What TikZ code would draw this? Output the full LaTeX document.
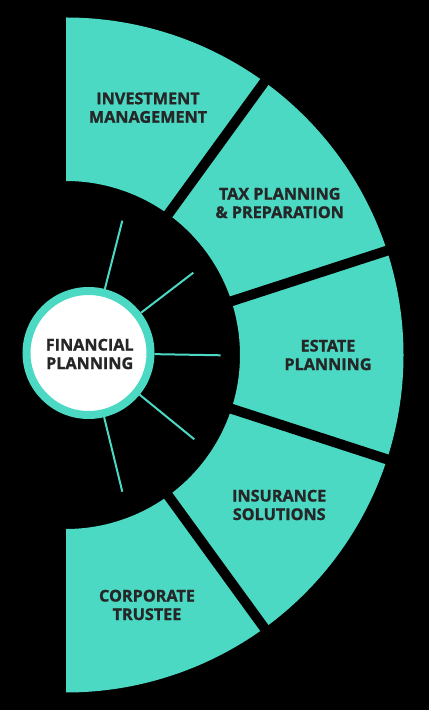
\documentclass[tikz,border=0pt]{standalone}
\usepackage{fontspec}
\setmainfont{Open Sans}[BoldFeatures={FakeBold=1.2}]
\definecolor{teal1}{HTML}{4BD9C4}
\definecolor{ink}{HTML}{262626}
\begin{document}
\begin{tikzpicture}[x=1pt,y=1pt,
  lbl/.style={font=\fontsize{16.2}{18.5}\selectfont\bfseries, text=ink, align=center, inner sep=0pt},
  segfill/.style={fill=teal1},
  gapline/.style={draw=black, line width=10pt},
  spoke/.style={draw=teal1, line width=2pt},
  hubstyle/.style={circle, fill=white, draw=teal1, line width=8pt, minimum size=124pt, inner sep=0pt}]
\fill[black] (0,0) rectangle (429,710);
\useasboundingbox (0,0) rectangle (429,710);
\coordinate (C) at (66,355);
% annulus segments
\foreach \a/\b in {90/54,54/18,18/-18,-18/-54,-54/-90}
  \fill[segfill, shift={(66,355)}] (\a:174) arc[start angle=\a, end angle=\b, radius=174]
     -- (\b:337.5) arc[start angle=\b, end angle=\a, radius=337.5] -- cycle;
% gaps
\foreach \a in {54,18,-18,-54}
  \draw[gapline, shift={(66,355)}] (\a:160) -- (\a:350);
% labels
\node[lbl] (inv) at (148,602.3) {INVESTMENT\\MANAGEMENT};
\node[lbl] (tax) at (279.7,507) {TAX PLANNING\\\& PREPARATION};
\node[lbl] (est) at (328,355) {ESTATE\\PLANNING};
\node[lbl] (ins) at (279.2,205) {INSURANCE\\SOLUTIONS};
\node[lbl] (cor) at (147,105) {CORPORATE\\TRUSTEE};
% hub
\node[hubstyle] (hub) at (88.5,357) {};
\node[lbl] (fin) at (89.7,356) {FINANCIAL\\PLANNING};
% spokes
\coordinate (s1) at (122.3,489.3);
\coordinate (s2) at (193.3,437.3);
\coordinate (s3) at (220.7,354.7);
\coordinate (s4) at (194.3,270.7);
\coordinate (s5) at (122.3,218.3);
\foreach \s in {s1,s2,s3,s4,s5}
  \draw[spoke] (hub) -- (\s);
\end{tikzpicture}
\end{document}
